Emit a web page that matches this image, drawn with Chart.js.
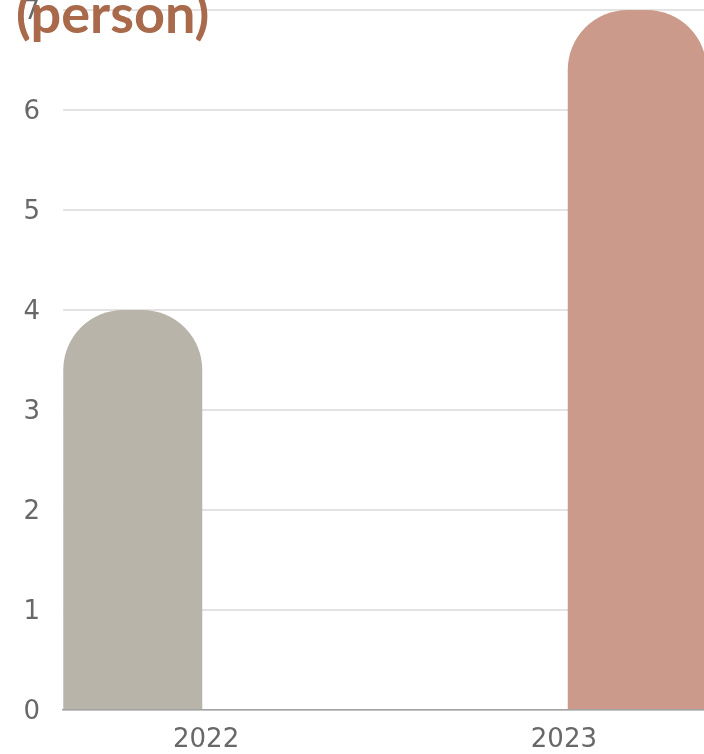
<!DOCTYPE html>
<html lang="en">
<head>
    <meta charset="UTF-8">
    <title>Members per year</title>
    <script src="https://cdn.jsdelivr.net/npm/chart.js"></script>
    <style>
        html, body {
            margin: 0;
            padding: 0;
            background: #ffffff;
            overflow: hidden;
        }
        .chart-box {
            position: relative;
            width: 707px;
            height: 754px;
        }
    </style>
</head>
<body>
    <div class="chart-box">
        <canvas id="membersChart"></canvas>
    </div>

    <script>
        // Data
        const years = [2022, 2023];
        const members = [4, 7];
        const yTicks = [0, 1, 2, 3, 4, 5, 6, 7];
        const unitLabel = '(person)';

        const barColors = ['#b9b4aa', '#cc9a8a'];

        // Unit caption painted at the top-left corner, over the axis
        const unitCaption = {
            id: 'unitCaption',
            afterDraw(chart) {
                const ctx = chart.ctx;
                ctx.save();
                ctx.font = 'bold 54px Lato, "Open Sans", sans-serif';
                ctx.fillStyle = '#a9694b';
                ctx.textAlign = 'left';
                ctx.textBaseline = 'alphabetic';
                ctx.fillText(unitLabel, 16, 33);
                ctx.restore();
            }
        };

        const datasets = years.map((year, i) => ({
            label: String(year),
            data: [{ x: year, y: members[i] }],
            backgroundColor: barColors[i],
            borderWidth: 0,
            borderRadius: { topLeft: 60, topRight: 60 },
            borderSkipped: 'start',
            categoryPercentage: 0.82,
            barPercentage: 0.9475
        }));

        new Chart(document.getElementById('membersChart'), {
            type: 'bar',
            data: { datasets: datasets },
            options: {
                responsive: true,
                maintainAspectRatio: false,
                animation: false,
                layout: { padding: { top: 10, left: 0, right: 0, bottom: 0 } },
                plugins: {
                    legend: { display: false },
                    tooltip: { enabled: false }
                },
                scales: {
                    x: {
                        type: 'linear',
                        offset: false,
                        bounds: 'data',
                        min: years[0] - 0.4,
                        max: years[years.length - 1] + 0.4,
                        grid: { display: false, drawTicks: false, offset: false },
                        border: { display: true, color: '#a3a3a3', width: 1.5 },
                        afterBuildTicks(scale) {
                            scale.ticks = years.map(v => ({ value: v }));
                        },
                        afterFit(scale) {
                            scale.height = 44;
                            scale.paddingLeft = 0;
                            scale.paddingRight = 0;
                        },
                        ticks: {
                            padding: 15,
                            color: '#686868',
                            font: { family: '"DejaVu Sans", sans-serif', size: 26, lineHeight: 1.2 },
                            callback: v => String(v)
                        }
                    },
                    y: {
                        min: 0,
                        max: yTicks[yTicks.length - 1],
                        afterBuildTicks(scale) {
                            scale.ticks = yTicks.map(v => ({ value: v }));
                        },
                        afterFit(scale) {
                            scale.width = 63;
                            scale.paddingTop = 0;
                            scale.paddingBottom = 0;
                        },
                        grid: { color: '#e3e3e3', lineWidth: 2, drawTicks: false },
                        border: { display: false },
                        ticks: {
                            padding: 23,
                            labelOffset: 2,
                            color: '#686868',
                            font: { family: '"DejaVu Sans", sans-serif', size: 26, lineHeight: 1.2 }
                        }
                    }
                }
            },
            plugins: [unitCaption]
        });
    </script>
</body>
</html>
